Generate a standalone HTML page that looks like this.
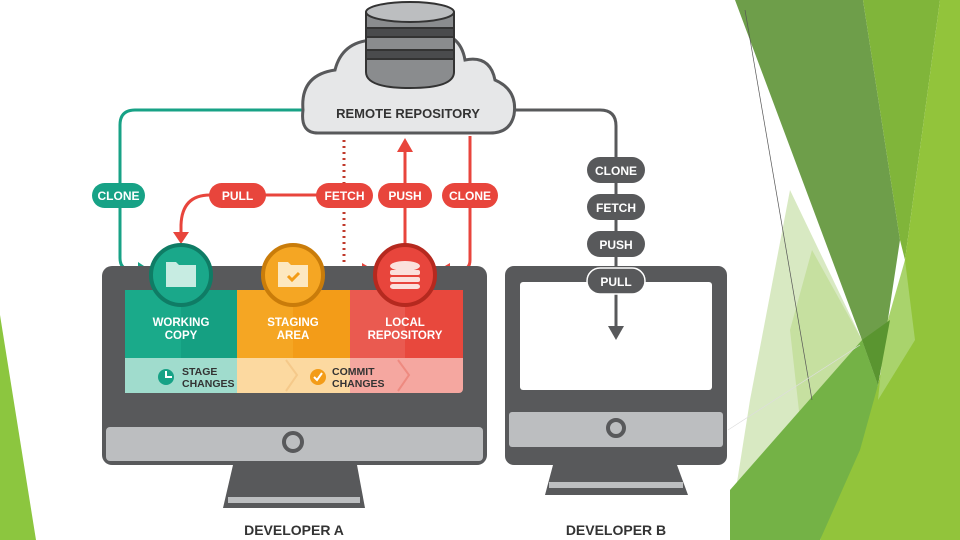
<!DOCTYPE html>
<html><head><meta charset="utf-8"><style>
html,body{margin:0;padding:0;background:#fff;width:960px;height:540px;overflow:hidden}
text{font-family:"Liberation Sans",sans-serif;font-weight:bold}
</style></head><body>
<svg width="960" height="540" viewBox="0 0 960 540" xmlns="http://www.w3.org/2000/svg">
<!-- right green background -->
<polygon points="790,190 862,340 735,495 750,400" fill="#d8e9c2"/>
<polygon points="812,250 862,340 800,420 790,330" fill="#c6e0a0"/>
<polygon points="735,0 863,0 900,240 878,385 862,340" fill="#6e9e4a"/>
<polygon points="863,0 940,0 905,260 900,240" fill="#80b53a"/>
<polygon points="940,0 960,0 960,540 820,540 878,385 905,260" fill="#92c43b"/>
<polygon points="905,260 915,340 878,400 885,330" fill="#a9d36c"/>
<polygon points="730,490 862,340 878,385 860,450 820,540 730,540" fill="#74b246"/>
<polygon points="862,340 878,385 890,320" fill="#5a9530"/>
<line x1="745" y1="10" x2="812" y2="400" stroke="#555" stroke-width="0.7"/>
<line x1="728" y1="430" x2="860" y2="345" stroke="#ddd" stroke-width="0.7"/>
<polygon points="0,315 36,540 0,540" fill="#8cc63f"/>

<!-- connectors -->
<path d="M305,110 H135 Q120,110 120,125 V258 Q120,270 132,270 H140" fill="none" stroke="#17a286" stroke-width="3"/>
<path d="M138,262 L150,270 L138,278z" fill="#17a286"/>
<path d="M344,195 H210 Q182,195 181,225 V234" fill="none" stroke="#e8453c" stroke-width="3"/>
<path d="M173,232 L181,244 L189,232z" fill="#e8453c"/>
<path d="M344,140 V270 H362" fill="none" stroke="#c0392b" stroke-width="3" stroke-dasharray="2,4"/>
<path d="M362,263 L374,270 L362,277z" fill="#e8453c"/>
<path d="M405,248 V150" stroke="#e8453c" stroke-width="3"/>
<path d="M397,152 L405,138 L413,152z" fill="#e8453c"/>
<path d="M470,136 V260 Q470,270 460,270 H448" fill="none" stroke="#e8453c" stroke-width="3"/>
<path d="M450,263 L438,270 L450,277z" fill="#e8453c"/>
<path d="M512,110 H600 Q616,110 616,126 V326" fill="none" stroke="#58595b" stroke-width="3"/>
<path d="M514,103 L502,110 L514,117z" fill="#58595b"/>

<!-- cloud -->
<path d="M318,133 Q300,133 303,110 Q300,75 335,70 Q342,42 372,40 Q395,20 425,32 Q460,30 465,60 Q490,55 495,80 Q518,90 514,115 Q510,133 490,133 Z" fill="#e6e7e8" stroke="#58595b" stroke-width="3"/>
<!-- database -->
<g stroke="#333" stroke-width="2">
<path d="M366,12 V72 Q366,88 410,88 Q454,88 454,72 V12" fill="#8a8c8e"/>
<rect x="366" y="28" width="88" height="9" fill="#4a4b4d"/>
<rect x="366" y="50" width="88" height="9" fill="#4a4b4d"/>
<ellipse cx="410" cy="12" rx="44" ry="10" fill="#bcbec0"/>
</g>
<text x="408" y="118" font-size="13" fill="#333" text-anchor="middle" font-weight="normal">REMOTE REPOSITORY</text>

<!-- monitor A -->
<rect x="102" y="266" width="385" height="199" rx="10" fill="#58595b"/>
<rect x="106" y="427" width="377" height="34" rx="4" fill="#bcbec0"/>
<circle cx="293" cy="442" r="9" fill="none" stroke="#58595b" stroke-width="4"/>
<polygon points="233,465 357,465 365,508 223,508" fill="#58595b"/>
<rect x="228" y="497" width="132" height="6" fill="#bcbec0"/>
<rect x="125" y="290" width="338" height="103" rx="4" fill="#f5a7a0"/>
<rect x="125" y="290" width="112" height="68" fill="#1aaa8a"/>
<rect x="181" y="290" width="56" height="68" fill="#15a082"/>
<rect x="237" y="290" width="113" height="68" fill="#f5a623"/>
<rect x="293" y="290" width="57" height="68" fill="#f39c18"/>
<rect x="350" y="290" width="113" height="68" fill="#ea5a50"/>
<rect x="405" y="290" width="58" height="68" fill="#e8483d"/>
<rect x="125" y="358" width="112" height="35" fill="#a0dccd"/>
<rect x="237" y="358" width="113" height="35" fill="#fcd9a0"/>
<polyline points="286,360 297,375 286,391" fill="none" stroke="#f5c98a" stroke-width="2"/>
<polyline points="398,360 409,375 398,391" fill="none" stroke="#ee8a80" stroke-width="2"/>
<text font-size="11.5" fill="#fff" text-anchor="middle"><tspan x="181" y="326">WORKING</tspan><tspan x="181" y="339">COPY</tspan></text>
<text font-size="11.5" fill="#fff" text-anchor="middle"><tspan x="293" y="326">STAGING</tspan><tspan x="293" y="339">AREA</tspan></text>
<text font-size="11.5" fill="#fff" text-anchor="middle"><tspan x="405" y="326">LOCAL</tspan><tspan x="405" y="339">REPOSITORY</tspan></text>
<circle cx="166" cy="377" r="8" fill="#17a286"/><path d="M166,371 V377 H172" stroke="#fff" stroke-width="2" fill="none"/>
<text font-size="10.5" fill="#333" font-weight="normal"><tspan x="182" y="375">STAGE</tspan><tspan x="182" y="387">CHANGES</tspan></text>
<circle cx="318" cy="377" r="8" fill="#f39c18"/><path d="M314,377 L317,380 L322,373" stroke="#fff" stroke-width="2" fill="none"/>
<text font-size="10.5" fill="#333" font-weight="normal"><tspan x="332" y="375">COMMIT</tspan><tspan x="332" y="387">CHANGES</tspan></text>
<!-- circles -->
<circle cx="181" cy="275" r="30" fill="#1aa88a" stroke="#0f7c65" stroke-width="4"/>
<path d="M166,262 h10 l3,3 h17 v22 h-30z" fill="#c7ece2"/>
<circle cx="293" cy="275" r="30" fill="#f5a623" stroke="#c97c0a" stroke-width="4"/>
<path d="M278,262 h10 l3,3 h17 v22 h-30z" fill="#fde8c0"/><path d="M288,276 l4,4 l7,-7" stroke="#f39c18" stroke-width="3" fill="none"/>
<circle cx="405" cy="275" r="30" fill="#e8453c" stroke="#b5291f" stroke-width="4"/>
<g fill="#fbe1dc"><ellipse cx="405" cy="266" rx="15" ry="5"/><rect x="390" y="270" width="30" height="5" rx="2"/><rect x="390" y="277" width="30" height="5" rx="2"/><rect x="390" y="284" width="30" height="5" rx="3"/></g>
<!-- pills -->
<g font-size="12" fill="#fff" text-anchor="middle">
<rect x="92" y="183" width="53" height="25" rx="12.5" fill="#17a286"/><text x="118.5" y="200" fill="#fff">CLONE</text>
<rect x="209" y="183" width="57" height="25" rx="12.5" fill="#e8453c"/><text x="237.5" y="200" fill="#fff">PULL</text>
<rect x="316" y="183" width="57" height="25" rx="12.5" fill="#e8453c"/><text x="344.5" y="200" fill="#fff">FETCH</text>
<rect x="378" y="183" width="54" height="25" rx="12.5" fill="#e8453c"/><text x="405" y="200" fill="#fff">PUSH</text>
<rect x="442" y="183" width="56" height="25" rx="12.5" fill="#e8453c"/><text x="470" y="200" fill="#fff">CLONE</text>
</g>

<!-- monitor B -->
<rect x="505" y="266" width="222" height="199" rx="9" fill="#58595b"/>
<rect x="520" y="282" width="192" height="108" rx="3" fill="#fff"/>
<rect x="509" y="412" width="214" height="35" rx="3" fill="#bcbec0"/>
<circle cx="616" cy="428" r="8" fill="none" stroke="#58595b" stroke-width="4"/>
<polygon points="553,465 677,465 688,495 545,495" fill="#58595b"/>
<rect x="549" y="482" width="134" height="6" fill="#bcbec0"/>
<path d="M616,290 V326" stroke="#58595b" stroke-width="3"/>
<path d="M608,326 L616,340 L624,326z" fill="#58595b"/>
<g font-size="12" text-anchor="middle">
<rect x="587" y="157" width="58" height="26" rx="13" fill="#58595b"/><text x="616" y="175" fill="#fff">CLONE</text>
<rect x="587" y="194" width="58" height="26" rx="13" fill="#58595b"/><text x="616" y="212" fill="#fff">FETCH</text>
<rect x="587" y="231" width="58" height="26" rx="13" fill="#58595b"/><text x="616" y="249" fill="#fff">PUSH</text>
<rect x="587" y="268" width="58" height="26" rx="13" fill="#58595b" stroke="#fff" stroke-width="1.5"/><text x="616" y="286" fill="#fff">PULL</text>
</g>
<text x="294" y="535" font-size="14" fill="#333" text-anchor="middle" font-weight="normal">DEVELOPER A</text>
<text x="616" y="535" font-size="14" fill="#333" text-anchor="middle" font-weight="normal">DEVELOPER B</text>
</svg>
</body></html>
